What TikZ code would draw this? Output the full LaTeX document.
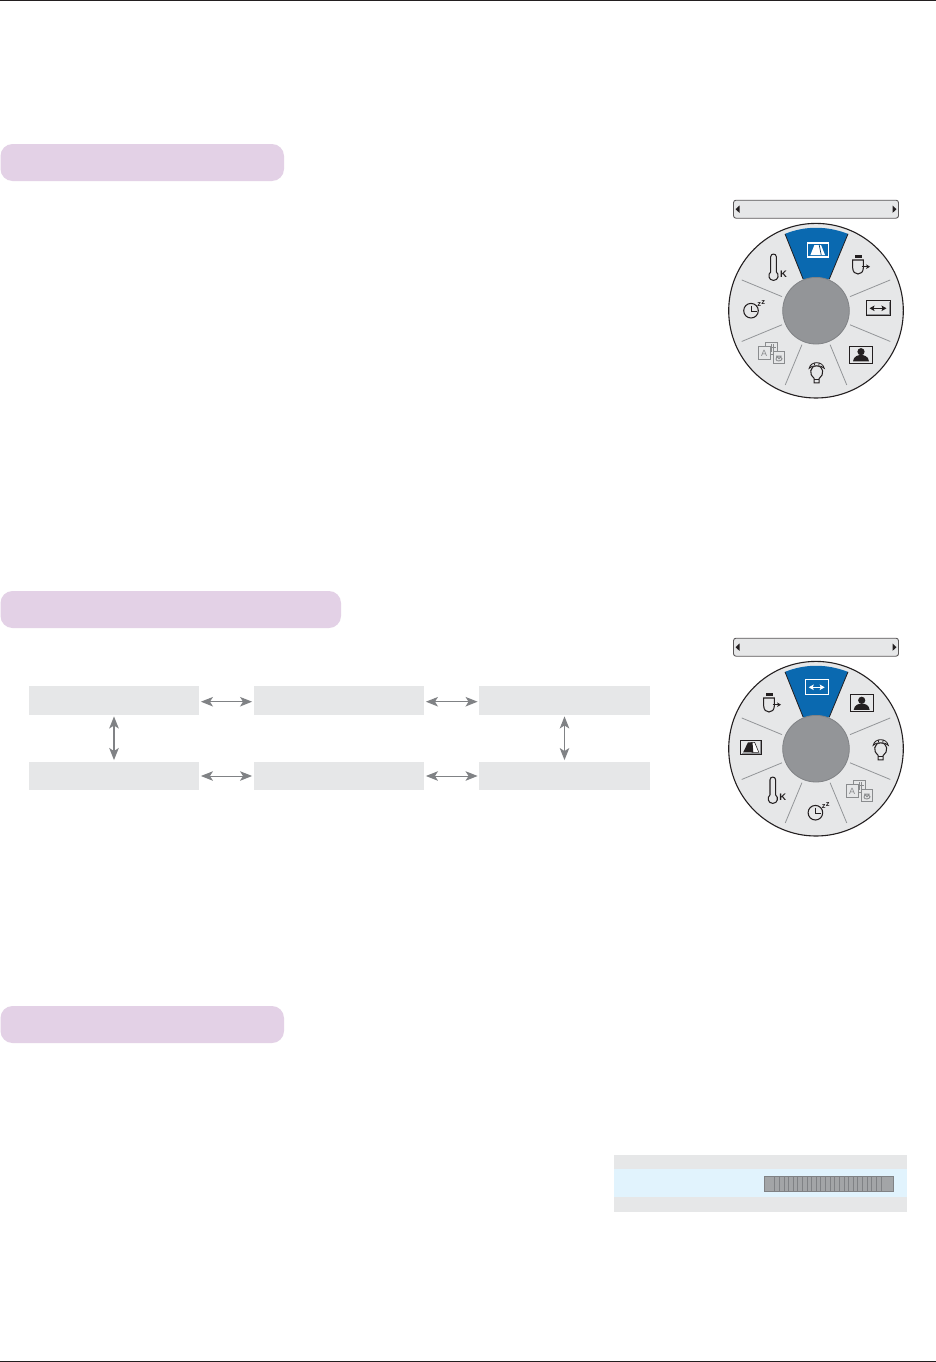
\documentclass[tikz,border=0pt]{standalone}
\usepackage{fontspec}
\setmainfont{Liberation Sans}
\usetikzlibrary{arrows.meta}
\definecolor{pill}{HTML}{E3D1E6}
\definecolor{pale}{HTML}{E6E7E8}
\definecolor{lightblue}{HTML}{E1F3FD}
\definecolor{midgray}{HTML}{939598}
\definecolor{arrowgray}{HTML}{808285}
\definecolor{sel}{HTML}{0A69B0}
\definecolor{icon}{HTML}{231F20}
\definecolor{langgray}{HTML}{8A8C8E}
\tikzset{
  pillbox/.style={fill=pill,rounded corners=12pt},
  flowbox/.style={fill=pale,inner sep=0pt,minimum width=170.5pt,minimum height=28.5pt},
  twoway/.style={draw=arrowgray,line width=1pt,
     {Stealth[length=12pt,width=9.5pt,inset=3pt]}-{Stealth[length=12pt,width=9.5pt,inset=3pt]},shorten >=1.5pt,shorten <=1.5pt},
  twowayv/.style={twoway,line width=1.8pt},
  divider/.style={draw=midgray,line width=.8pt},
  ic/.style={draw=icon,line width=1.05pt},
  smallarrows/.style={{Stealth[length=5pt,width=5.5pt,inset=1pt]}-{Stealth[length=5pt,width=5.5pt,inset=1pt]}},
  icontext/.style={inner sep=0pt,text=icon,font=\bfseries\fontsize{9.5}{9.5}\selectfont},
  ztext/.style={inner sep=0pt,text=icon,font=\bfseries\fontsize{7.5}{7.5}\selectfont},
}
% selector bar
\newcommand{\selbar}[1]{%
  \begin{scope}[shift={(816,#1)}]
    \draw[draw=icon!75,fill=pale,line width=.9pt,rounded corners=2.5pt] (-82.5,-9) rectangle (82.5,9);
    \fill[icon] (-76.5,-3.7) -- (-76.5,3.7) -- (-80.5,0) -- cycle;
    \fill[icon] (76.5,-3.7) -- (76.5,3.7) -- (80.5,0) -- cycle;
  \end{scope}}
% wheel
\newcommand{\wheelbase}[2]{%
  \begin{scope}[shift={(#1,#2)}]
    \draw[fill=pale,draw=icon,line width=1.1pt] (0,0) circle[radius=87.3];
    \fill[sel] (-31,-76.8) .. controls (-11,-85) and (11,-85) .. (32,-76.8) -- (13.2,-31.4) -- (-12.8,-31.4) -- cycle;
    \draw[icon,line width=.8pt] (-31,-76.8) -- (-12.8,-31.4) (32,-76.8) -- (13.2,-31.4);
    \foreach \a in {-22.5,22.5,67.5,112.5,157.5,202.5}
      \draw[divider] (\a:36.8) -- (\a:80.4);
    \draw[fill=midgray,draw=arrowgray,line width=.8pt] (0,0) circle[radius=33.3];
  \end{scope}}
% icons
\newcommand{\iconaspect}[2]{%
  \begin{scope}[shift={(#1,#2)}]
    \draw[draw=icon,line width=1pt,fill=pale] (-12,-7.5) rectangle (12,7.5);
    \draw[draw=midgray,line width=.9pt] (-11,6.5) -- (11,6.5) -- (11,-6.5);
    \draw[icon,line width=1pt,smallarrows] (-8.5,0) -- (8.5,0);
  \end{scope}}
\newcommand{\iconaspectsel}[2]{%
  \begin{scope}[shift={(#1,#2)}]
    \draw[draw=white,line width=1.1pt] (-11.5,-7.5) rectangle (11.5,7.5);
    \draw[white,line width=1.1pt,smallarrows] (-8,0) -- (8,0);
  \end{scope}}
\newcommand{\iconkey}[2]{%
  \begin{scope}[shift={(#1,#2)}]
    \draw[draw=icon,line width=1pt,fill=pale] (-10.5,-7) rectangle (10.5,7);
    \draw[draw=midgray,line width=.9pt] (-9.5,6) -- (9.5,6) -- (9.5,-6);
    \draw[fill=white,draw=icon,line width=.6pt] (0,-5) -- (3.6,-5) -- (7.8,5) -- (1,5) -- cycle;
    \fill[icon] (-7.8,5) -- (-3,-5) -- (1.5,-5) -- (2.3,5) -- cycle;
  \end{scope}}
\newcommand{\iconkeysel}[2]{%
  \begin{scope}[shift={(#1,#2)}]
    \draw[draw=white,line width=1.1pt] (-10.5,-7) rectangle (10.5,7);
    \fill[white] (-7.3,5) -- (-3.3,-5) -- (3.3,-5) -- (7.3,5) -- cycle;
    \draw[sel!60!black,line width=.7pt] (1.5,-5) -- (3.5,5);
  \end{scope}}
\newcommand{\iconperson}[2]{%
  \begin{scope}[shift={(#1,#2)}]
    \draw[draw=icon,line width=1.1pt,fill=pale] (-11.5,-8.5) rectangle (11.5,8.5);
    \fill[icon] (0,-3) circle[radius=3.6];
    \fill[icon] (-8,6.6) .. controls (-7.5,1.5) and (-3,0.3) .. (0,0.3) .. controls (3,0.3) and (7.5,1.5) .. (8,6.6) -- cycle;
  \end{scope}}
\newcommand{\iconusb}[2]{%
  \begin{scope}[shift={(#1,#2)}]
    \fill[icon] (-5,-11) rectangle (1.7,-7.7);
    \draw[ic] (-7.3,-6) -- (-7.3,2) .. controls (-7.3,10) and (3.3,10) .. (3.3,2) -- (3.3,-6) -- cycle;
    \draw[icon,line width=.9pt,-{Stealth[length=4pt,width=4.5pt]}] (1.7,.7) -- (10,.7);
  \end{scope}}
\newcommand{\iconthermo}[3]{%
  \begin{scope}[shift={(#1,#2)}]
    \draw[ic] (-5.3,5.2) -- (-5.3,-10) .. controls (-5.3,-13.5) and (0.3,-13.5) .. (0.3,-10) -- (0.3,5.2)
       .. controls (3.5,7.5) and (2.5,13.7) .. (-2.5,13.7) .. controls (-7.5,13.7) and (-8.5,7.5) .. (-5.3,5.2);
    \node[icontext] (#3) at (7.5,7.6) {K};
  \end{scope}}
\newcommand{\iconsleep}[3]{%
  \begin{scope}[shift={(#1,#2)}]
    \draw[ic] (-2.3,1.4) circle[radius=7.3];
    \draw[icon,line width=.9pt] (-2.3,-3.8) -- (-2.3,1.8) -- (3.3,1.8);
    \node[ztext] (#3a) at (6,-4.5) {z};
    \node[ztext] (#3b) at (10,-6.5) {z};
  \end{scope}}
\newcommand{\iconlang}[3]{%
  \begin{scope}[shift={(#1,#2)},draw=langgray,line width=.9pt]
    \draw[fill=pale] (-6.3,-11) rectangle (5.7,1);
    \draw (-.5,-9) -- (-.5,-1) (1.5,-9) -- (1.5,-2) (-3,-6) -- (3.5,-6);
    \draw[fill=pale] (-13.7,-6.6) rectangle (-2,6);
    \node[inner sep=0pt,text=langgray,font=\fontsize{9}{9}\selectfont] (#3) at (-7.8,0) {A};
    \draw[fill=pale] (1.3,-1.6) rectangle (12.3,10);
    \draw (4,6) .. controls (4,3) and (7,3) .. (7,5.5) .. controls (7,3) and (10,3) .. (10,5.5) .. controls (10,8) and (4,8.5) .. (4,6) (4,2.8) -- (9.5,2.8);
  \end{scope}}
\newcommand{\iconlamp}[2]{%
  \begin{scope}[shift={(#1,#2)}]
    \draw[ic] (-3.5,5.2) .. controls (-9,1.5) and (-8,-7.5) .. (-1,-7.5) .. controls (6,-7.5) and (7,1.5) .. (1.5,5.2) -- (1.5,9.5) -- (-3.5,9.5) -- cycle;
    \draw[ic] (-3.5,6) -- (1.5,6);
    \draw[fill=pale,draw=icon,line width=.85pt] (-8.5,-5) .. controls (-7,-12.5) and (5,-12.5) .. (6.5,-5)
       .. controls (4,-8.5) and (-6,-8.5) .. (-8.5,-5) -- cycle;
    \draw[icon,line width=.7pt] (-3.5,-10.5) -- (-3,-7.8) (1.5,-10.5) -- (1,-7.8);
  \end{scope}}
\begin{document}
\begin{tikzpicture}[x=1pt,y=-1pt]
\useasboundingbox (0,0) rectangle (936,1362);
\fill[white] (0,0) rectangle (936,1362);
% page rules
\draw[icon,line width=1pt] (0,.5) -- (936,.5);
\draw[icon,line width=1pt] (0,1361) -- (936,1361);
% section bars
\fill[pillbox] (.5,144) rectangle (284,181);
\fill[pillbox] (.5,591) rectangle (341,628);
\fill[pillbox] (.5,1006) rectangle (284,1043);
% first wheel
\selbar{209.2}
\wheelbase{816}{310.7}
\iconkeysel{817.7}{250}
\iconusb{860}{266}
\iconaspect{878}{308.3}
\iconperson{861}{354.7}
\iconlamp{817.7}{373.3}
\iconlang{772}{353.3}{langA}
\iconsleep{753.3}{309.3}{sleepA}
\iconthermo{776}{266.7}{thermoA}
% second wheel
\selbar{647.2}
\wheelbase{816}{748.7}
\iconaspectsel{816.7}{687.3}
\iconperson{861.7}{703.3}
\iconlamp{881.7}{750.3}
\iconlang{860}{791.3}{langB}
\iconsleep{817.7}{811.3}{sleepB}
\iconthermo{775.3}{789.7}{thermoB}
\iconkey{751}{747.3}
\iconusb{771}{704}
% flow of modes
\node[flowbox] (a1) at (114,700.5) {};
\node[flowbox] (a2) at (339,700.5) {};
\node[flowbox] (a3) at (564.5,700.5) {};
\node[flowbox] (b1) at (114,776) {};
\node[flowbox] (b2) at (339,776) {};
\node[flowbox] (b3) at (564.5,776) {};
\draw[twoway] ([yshift=-1.2pt]a1.east) -- ([yshift=-1.2pt]a2.west);
\draw[twoway] ([yshift=-1.2pt]a2.east) -- ([yshift=-1.2pt]a3.west);
\draw[twoway] (b1.east) -- (b2.west);
\draw[twoway] (b2.east) -- (b3.west);
\draw[twowayv] (a1.south) -- (b1.north);
\draw[twoway] (a3.south) -- (b3.north);
% adjustment panel
\fill[pale] (614,1155) rectangle (907,1212);
\fill[lightblue] (614,1169) rectangle (907,1197);
\draw[fill=midgray!85,draw=arrowgray,line width=1pt] (764.5,1176.5) rectangle (893.5,1191.5);
\foreach \i in {0,...,23}
  \draw[arrowgray,line width=.9pt] ({774.7+\i*4.62},1176.5) -- ({774.7+\i*4.62},1191.5);
\end{tikzpicture}
\end{document}
